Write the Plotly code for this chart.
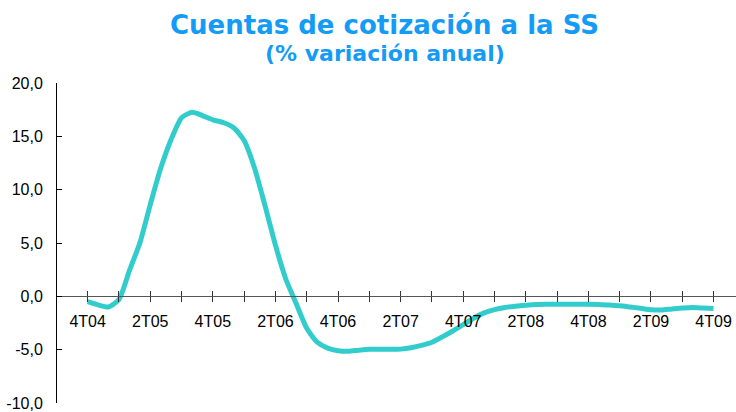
import plotly.graph_objects as go

# Monthly index from 4T04 (0) to 4T09 (60)
months = list(range(61))
values = [-0.5, -0.8, -1.0, -0.3, 2.4, 5.0, 8.6, 12.0, 14.7, 16.75,
          17.25, 16.95, 16.55, 16.3, 15.8, 14.6, 12.0, 8.5, 4.8, 1.6,
          -0.7, -3.0, -4.3, -4.85, -5.1, -5.15, -5.05, -4.97, -4.97, -4.97,
          -4.95, -4.82, -4.6, -4.3, -3.8, -3.25, -2.65, -2.05, -1.55, -1.25,
          -1.05, -0.92, -0.83, -0.76, -0.74, -0.74, -0.74, -0.74, -0.74, -0.76,
          -0.82, -0.88, -1.0, -1.12, -1.25, -1.28, -1.18, -1.1, -1.05, -1.1,
          -1.15]

x_tickvals = list(range(0, 61, 3))
x_ticktext = ["4T04", "", "2T05", "", "4T05", "", "2T06", "", "4T06", "", "2T07", "",
              "4T07", "", "2T08", "", "4T08", "", "2T09", "", "4T09"]
y_tickvals = [20, 15, 10, 5, 0, -5, -10]
y_ticktext = ["20,0", "15,0", "10,0", "5,0", "0,0", "-5,0", "-10,0"]

title_text = "Cuentas de cotización a la SS"
subtitle_text = "(% variación anual)"

fig = go.Figure()
fig.add_trace(go.Scatter(x=months, y=values, mode="lines",
                         line=dict(color="#33CCCC", width=5, shape="spline", smoothing=0.6),
                         hoverinfo="skip", showlegend=False))
fig.add_trace(go.Scatter(x=[months[0]], y=[values[0]], xaxis="x2", mode="markers",
                         marker=dict(opacity=0), showlegend=False, hoverinfo="skip"))

zero_pos = (0 - (-10)) / 30.0
xr = [-2.94, 62.15]
font_tick = dict(family="Liberation Sans, Arial, sans-serif", size=16, color="#000000")

fig.update_layout(
    width=736, height=412,
    margin=dict(l=57, r=0, t=83, b=3),
    paper_bgcolor="white", plot_bgcolor="white",
    showlegend=False,
    xaxis=dict(range=xr, anchor="free", position=zero_pos, showgrid=False, zeroline=False,
               showline=True, linecolor="#555555", linewidth=1,
               tickmode="array", tickvals=x_tickvals, ticktext=x_ticktext,
               ticks="outside", ticklen=5, tickcolor="#333333", tickwidth=1,
               tickfont=font_tick, ticklabelstandoff=5),
    xaxis2=dict(range=xr, overlaying="x", anchor="free", position=zero_pos, side="bottom",
                showgrid=False, zeroline=False, showline=False,
                tickmode="array", tickvals=x_tickvals, showticklabels=False,
                ticks="inside", ticklen=5, tickcolor="#333333", tickwidth=1),
    yaxis=dict(range=[-10, 20], showgrid=False, zeroline=False,
               showline=True, linecolor="#000000", linewidth=1,
               tickmode="array", tickvals=y_tickvals, ticktext=y_ticktext,
               ticks="inside", ticklen=5, tickcolor="#000000",
               tickfont=font_tick, ticklabelstandoff=10, ticklabeloverflow="allow"),
    annotations=[
        dict(text=title_text, xref="paper", yref="paper", x=0.483, y=1.182,
             xanchor="center", yanchor="middle", showarrow=False,
             font=dict(family="DejaVu Sans", size=26, color="#149BF5", weight="bold")),
        dict(text=subtitle_text, xref="paper", yref="paper", x=0.483, y=1.093,
             xanchor="center", yanchor="middle", showarrow=False,
             font=dict(family="DejaVu Sans", size=22, color="#149BF5", weight="bold")),
    ],
)

fig.write_html("out.html", config={"displayModeBar": False},
               post_script="document.body.style.margin='0';document.body.style.overflow='hidden';")
